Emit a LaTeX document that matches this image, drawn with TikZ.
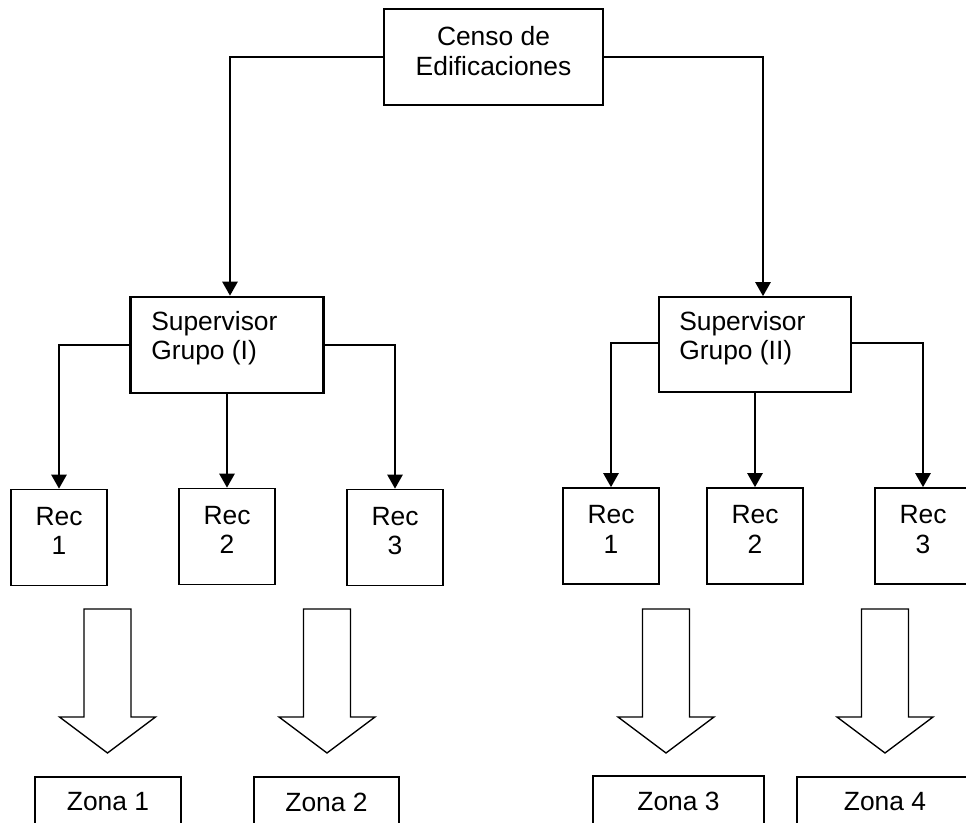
\documentclass[tikz,border=0pt]{standalone}
\usepackage{fontspec}
\setmainfont{Liberation Sans}
\usetikzlibrary{arrows.meta}
\begin{document}
\begin{tikzpicture}[x=0.75pt,y=-0.75pt,
  box/.style={draw, line width=1.3pt, inner sep=0pt, rectangle},
  thickbox/.style={box, line width=2pt},
  lbl/.style={inner sep=0pt, font=\fontsize{19.8}{22}\selectfont},
  conn/.style={line width=1.25pt, -{Triangle[width=11.5pt,length=10.5pt]}},
  barrow/.pic={\draw[line width=1pt, line join=miter] (-23.5,0) -- (23.5,0) -- (23.5,108) -- (48,108) -- (0,144) -- (-48,108) -- (-23.5,108) -- cycle;}
]
\useasboundingbox (0,0) rectangle (966,823);
\clip (0,0) rectangle (966,823);
\fill[white] (0,0) rectangle (966,823);

% top box
\node[box, minimum width=164.25pt, minimum height=72pt] (censo) at (493.5,57) {};
\node[lbl, align=center] (censot) at (493.5,51) {Censo de\\Edificaciones};

% supervisors
\node[thickbox, minimum width=144.75pt, minimum height=72pt] (sup1) at (227,345) {};
\node[lbl, align=left, anchor=west] (sup1t) at (151,338.5) {Supervisor\\Grupo (I)};
\node[box, minimum width=144pt, minimum height=71.25pt] (sup2) at (755,344.5) {};
\node[lbl, align=left, anchor=west] (sup2t) at (679,338) {Supervisor\\Grupo (II)};

% rec boxes
\foreach \n/\x/\y/\t in {r1/59/537.5/1, r2/227/536.5/2, r3/395/537.5/3, r4/611/536/1, r5/755/536/2, r6/923/536/3}{
  \node[box, minimum width=72pt, minimum height=72pt] (\n) at (\x,\y) {};
  \node[lbl, align=center] (\n t) at (\x,\y-6.5) {Rec\\\t};
}

% connectors
\draw[conn] (censo.west) -| ([xshift=2.25pt]sup1.north);
\draw[conn] (censo.east) -| ([xshift=6pt]sup2.north);
\draw[conn] (sup1.west) -| (r1.north);
\draw[conn] (sup1.south) -- (r2.north);
\draw[conn] (sup1.east) -| (r3.north);
\draw[conn] ([yshift=1pt]sup2.west) -| (r4.north);
\draw[conn] (sup2.south) -- (r5.north);
\draw[conn] ([yshift=1pt]sup2.east) -| (r6.north);

% block arrows
\pic at (107.5,609) {barrow};
\pic at (327,609) {barrow};
\pic at (666,609) {barrow};
\pic at (885,609) {barrow};

% zona boxes
\node[box, minimum width=109.5pt, minimum height=38.25pt] (z1) at (108,802.5) {};
\node[lbl] (z1t) at (108,802) {Zona 1};
\node[box, minimum width=108.75pt, minimum height=38.25pt] (z2) at (326.5,802.5) {};
\node[lbl] (z2t) at (326.5,802) {Zona 2};
\node[box, minimum width=128.25pt, minimum height=39pt] (z3) at (678.5,802) {};
\node[lbl] (z3t) at (678.5,801) {Zona 3};
\node[box, minimum width=132pt, minimum height=38.25pt] (z4) at (885,802.5) {};
\node[lbl] (z4t) at (885,802) {Zona 4};
\end{tikzpicture}
\end{document}
